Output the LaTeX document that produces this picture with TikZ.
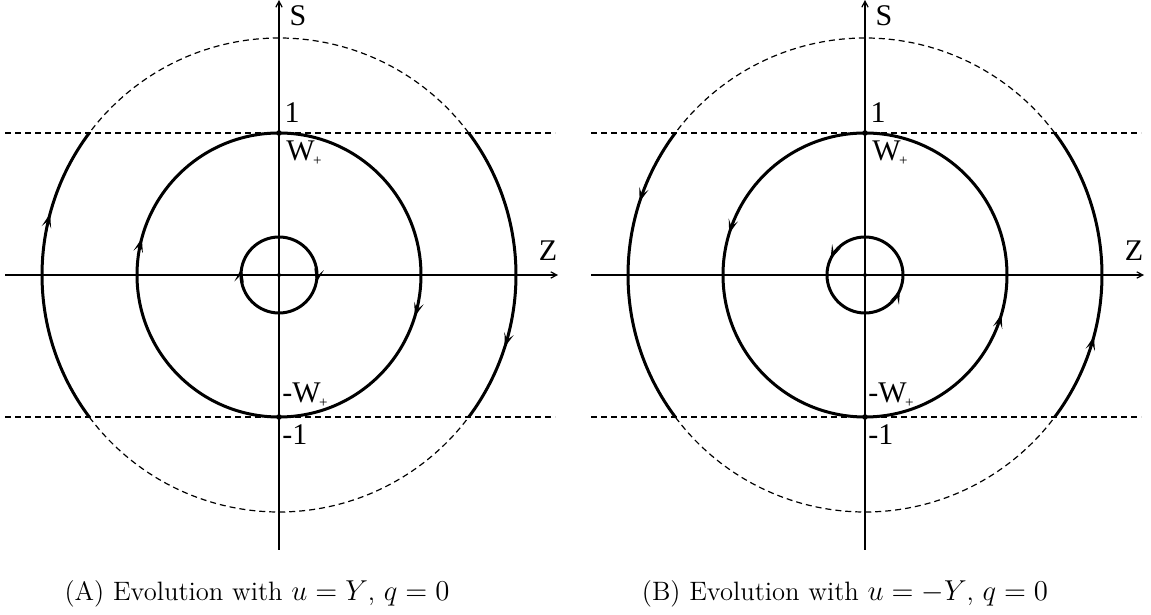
\documentclass[tikz,border=0pt]{standalone}
\usepackage{fontspec}
\newfontfamily\lblfont{Liberation Serif}
\usetikzlibrary{arrows.meta,calc}
\tikzset{
 axis/.style={line width=0.6pt, -{Straight Barb[length=3pt,width=3.2pt]}},
 orbit/.style={line width=1.5pt},
 guide/.style={line width=0.6pt, dash pattern=on 3pt off 2pt},
 lbl/.style={font=\lblfont\fontsize{15}{17}\selectfont, inner sep=0pt},
 captext/.style={font=\fontsize{13.3}{15}\selectfont, inner sep=0pt},
}
\newcommand\plussub{\kern-0.05em\raisebox{-0.4ex}{\fontsize{7.5}{8}\selectfont +}}
\newcommand\flowat[3]{% radius, angle, direction (+1 ccw, -1 cw)
  \begin{scope}[shift={(#2:#1)}, rotate={#2+(#3)*90}, line width=1.1pt]
    \pgfarrowdraw{Stealth[length=7pt,width=4.8pt,inset=3.3pt]}
  \end{scope}}
\newcommand\panelfig[9]{% name, centre x, dir, six angles
 \begin{scope}[shift={(#2,340)}]
  \coordinate (#1c) at (0,0);
  \coordinate (#1xl) at (-274,0);
  \coordinate (#1xr) at (279,0);
  \coordinate (#1yb) at (0,-275);
  \coordinate (#1yt) at (0,275);
  \draw[axis] (#1xl) -- (#1xr);
  \draw[axis] (#1yb) -- (#1yt);
  \draw[guide] (-274,142) -- (276,142);
  \draw[guide] (-274,-142) -- (276,-142);
  \draw[guide] (36.87:237) arc[start angle=36.87, end angle=143.13, radius=237];
  \draw[guide] (216.87:237) arc[start angle=216.87, end angle=323.13, radius=237];
  \draw[orbit] (-36.87:237) arc[start angle=-36.87, end angle=36.87, radius=237];
  \draw[orbit] (143.13:237) arc[start angle=143.13, end angle=216.87, radius=237];
  \draw[orbit] (#1c) circle[radius=142];
  \draw[orbit] (#1c) circle[radius=38];
  \fill (#1c) circle[radius=1pt];
  \fill (0,142) circle[radius=1.4pt];
  \fill (0,-142) circle[radius=1.4pt];
  \flowat{237}{#4}{#3}
  \flowat{237}{#5}{#3}
  \flowat{142}{#6}{#3}
  \flowat{142}{#7}{#3}
  \flowat{38}{#8}{#3}
  \flowat{38}{#9}{#3}
  \node[lbl] (#1S) at (19,259) {S};
  \node[lbl] (#1Z) at (269,24) {Z};
  \node[lbl] (#1one) at (13,162) {1};
  \node[lbl, anchor=west] (#1W) at (7,122) {W\plussub};
  \node[lbl, anchor=west] (#1mW) at (3,-120) {-W\plussub};
  \node[lbl, anchor=west] (#1mone) at (3,-160) {-1};
 \end{scope}}
\begin{document}
\begin{tikzpicture}[x=0.5pt,y=0.5pt]
\useasboundingbox (0,0) rectangle (1151,615);
\panelfig{a}{279}{-1}{165}{-17.7}{165}{-17}{170}{-12}
\panelfig{b}{865}{1}{162}{-15}{163}{-16}{155}{-23}
\node[captext] (capA) at (257,21) {(A) Evolution with $u=Y$, $q=0$};
\node[captext] (capB) at (845,21) {(B) Evolution with $u=-Y$, $q=0$};
\end{tikzpicture}
\end{document}
